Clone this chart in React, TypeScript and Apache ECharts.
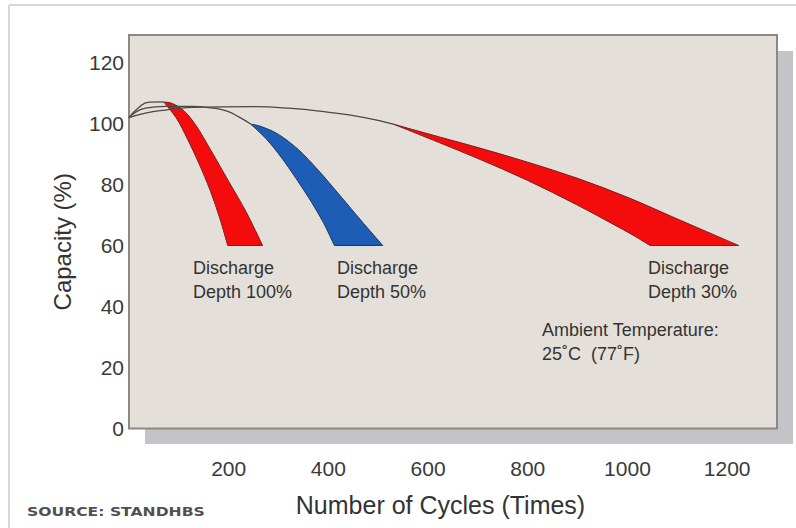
import React, { useEffect, useRef } from "react";
import * as echarts from "echarts";

// Axis settings
const X_MAX = 1300;
const Y_MAX = 129;
const X_INTERVAL = 200;
const Y_INTERVAL = 20;

// Thin lines from the start point into each band (cycles, capacity %)
const lineDod100: [number, number][] = [[0, 101.9], [18, 105], [40, 107], [70, 107.1]];
const lineDod50: [number, number][] = [[0, 101.9], [33, 105], [73, 105.6], [127, 105.6], [160, 105.2], [195, 104.1], [222, 102], [244, 99.8]];
const lineDod30: [number, number][] = [[0, 101.9], [33, 103.4], [73, 104.4], [127, 105.3], [244, 105.5], [320, 105], [398, 103.7], [470, 102], [530, 99.8]];

// Band edges (top point down to 60 %)
const dod100Left: [number, number][] = [[70, 107], [96, 101.5], [117, 95], [140, 87], [163, 78], [182, 69], [198, 60]];
const dod100Right: [number, number][] = [[70, 107], [86, 106.6], [110, 104.2], [135, 99.2], [165, 91], [200, 81], [235, 71], [268, 60]];
const dod50Left: [number, number][] = [[244, 99.8], [275, 95], [305, 89], [335, 82], [365, 74.5], [390, 67.5], [412, 60]];
const dod50Right: [number, number][] = [[244, 99.8], [265, 99], [300, 96.4], [340, 91.4], [380, 84.6], [420, 77], [465, 68.3], [509, 60]];
const dod30Lower: [number, number][] = [[530, 99.8], [600, 95.2], [700, 88.5], [800, 81.3], [900, 73.2], [1000, 64.4], [1045, 60]];
const dod30Upper: [number, number][] = [[530, 99.8], [600, 96.6], [700, 92.1], [800, 87.3], [900, 82], [1000, 75.8], [1100, 68.7], [1223, 60]];

const bandLabels = ["Discharge\nDepth 100%", "Discharge\nDepth 50%", "Discharge\nDepth 30%"];
const noteLabel = "Ambient Temperature:\n25˚C  (77˚F)";
const sourceLabel = "SOURCE: STANDHBS";
const xName = "Number of Cycles (Times)";
const yName = "Capacity (%)";

const FONT = "'Liberation Sans', Arial, sans-serif";

function splinePath(pts: number[][], start: boolean): string {
  let d = start ? `M${pts[0][0]},${pts[0][1]}` : `L${pts[0][0]},${pts[0][1]}`;
  for (let i = 0; i < pts.length - 1; i++) {
    const p0 = pts[i - 1] || pts[i];
    const p1 = pts[i];
    const p2 = pts[i + 1];
    const p3 = pts[i + 2] || p2;
    const c1x = p1[0] + (p2[0] - p0[0]) / 6;
    const c1y = p1[1] + (p2[1] - p0[1]) / 6;
    const c2x = p2[0] - (p3[0] - p1[0]) / 6;
    const c2y = p2[1] - (p3[1] - p1[1]) / 6;
    d += `C${c1x},${c1y},${c2x},${c2y},${p2[0]},${p2[1]}`;
  }
  return d;
}

function bandSeries(name: string, edgeA: [number, number][], edgeB: [number, number][], fill: string, stroke: string) {
  return {
    type: "custom",
    name,
    data: [edgeA[0]],
    encode: { x: 0, y: 1 },
    z: 3,
    silent: true,
    renderItem: (_params: any, api: any) => {
      const a = edgeA.map((p) => api.coord(p));
      const b = edgeB.map((p) => api.coord(p)).reverse();
      const d = splinePath(a, true) + splinePath(b, false) + "Z";
      return {
        type: "path",
        shape: { pathData: d },
        style: { fill, stroke, lineWidth: 1 },
      };
    },
  };
}

function lineSeries(name: string, data: [number, number][]) {
  return {
    type: "line",
    name,
    data,
    smooth: true,
    symbol: "none",
    z: 4,
    silent: true,
    lineStyle: { color: "#4a4745", width: 1.3 },
  };
}

export default function App() {
  const ref = useRef<HTMLDivElement>(null);
  useEffect(() => {
    if (!ref.current) return;
    const chart = echarts.init(ref.current, null, { renderer: "svg" });
    const labelStyle = { fontFamily: FONT, fontSize: 18, fill: "#333", lineHeight: 24 };
    chart.setOption({
      animation: false,
      backgroundColor: "#ffffff",
      grid: {
        left: 129,
        top: 35,
        width: 648,
        height: 393.5,
        show: true,
        backgroundColor: "#e4e0d9",
        borderColor: "#8c8883",
        borderWidth: 2,
        z: 1,
      },
      xAxis: {
        type: "value",
        min: 0,
        max: X_MAX,
        interval: X_INTERVAL,
        name: xName,
        nameLocation: "middle",
        nameGap: 64,
        nameTextStyle: { fontFamily: FONT, fontSize: 25, color: "#333", padding: [0, 25, 0, 0] },
        axisLine: { show: false },
        axisTick: { show: false },
        axisLabel: {
          showMinLabel: false,
          showMaxLabel: false,
          fontFamily: FONT,
          fontSize: 21,
          color: "#3a3a3a",
          margin: 29,
          formatter: (v: number) => String(v),
        },
        splitLine: { show: true, lineStyle: { color: "#9a958f", width: 1 } },
      },
      yAxis: {
        type: "value",
        min: 0,
        max: Y_MAX,
        interval: Y_INTERVAL,
        name: yName,
        nameLocation: "middle",
        nameGap: 55,
        nameTextStyle: { fontFamily: FONT, fontSize: 24, color: "#333", padding: [0, 20, 0, 0] },
        axisLine: { show: false },
        axisTick: { show: false },
        axisLabel: { showMaxLabel: false, fontFamily: FONT, fontSize: 21, color: "#3a3a3a", margin: 5, formatter: (v: number) => String(v) },
        splitLine: { show: true, lineStyle: { color: "#9a958f", width: 1 } },
      },
      graphic: [
        { type: "line", z: -2, shape: { x1: 9, y1: 5, x2: 796, y2: 5 }, style: { stroke: "#d6d6d6", lineWidth: 2 } },
        { type: "line", z: -2, shape: { x1: 9, y1: 5, x2: 9, y2: 528 }, style: { stroke: "#d6d6d6", lineWidth: 2 } },
        { type: "rect", z: -1, shape: { x: 145, y: 51, width: 648, height: 393 }, style: { fill: "#c4c3c7" } },
        { type: "text", z: 10, x: 193, y: 256, style: { ...labelStyle, text: bandLabels[0], verticalAlign: "top" } },
        { type: "text", z: 10, x: 337, y: 256, style: { ...labelStyle, text: bandLabels[1], verticalAlign: "top" } },
        { type: "text", z: 10, x: 648, y: 256, style: { ...labelStyle, text: bandLabels[2], verticalAlign: "top" } },
        { type: "text", z: 10, x: 542, y: 318, style: { ...labelStyle, text: noteLabel, verticalAlign: "top" } },
        {
          type: "text",
          z: 10,
          x: 27,
          y: 512,
          scaleX: 1.3,
          style: { text: sourceLabel, fontFamily: "'DejaVu Sans', sans-serif", fontWeight: "bold", fontSize: 12, fill: "#505050", verticalAlign: "middle" },
        },
      ],
      series: [
        lineSeries("DoD 100% line", lineDod100),
        lineSeries("DoD 50% line", lineDod50),
        lineSeries("DoD 30% line", lineDod30),
        bandSeries("Discharge Depth 100%", dod100Left, dod100Right, "#f40b0b", "#7a2020"),
        bandSeries("Discharge Depth 50%", dod50Left, dod50Right, "#1d5db5", "#1d3560"),
        bandSeries("Discharge Depth 30%", dod30Lower, dod30Upper, "#f40b0b", "#7a2020"),
      ],
    });
    return () => chart.dispose();
  }, []);
  return <div ref={ref} style={{ width: 796, height: 528, position: "absolute", left: 0, top: 0 }} />;
}
